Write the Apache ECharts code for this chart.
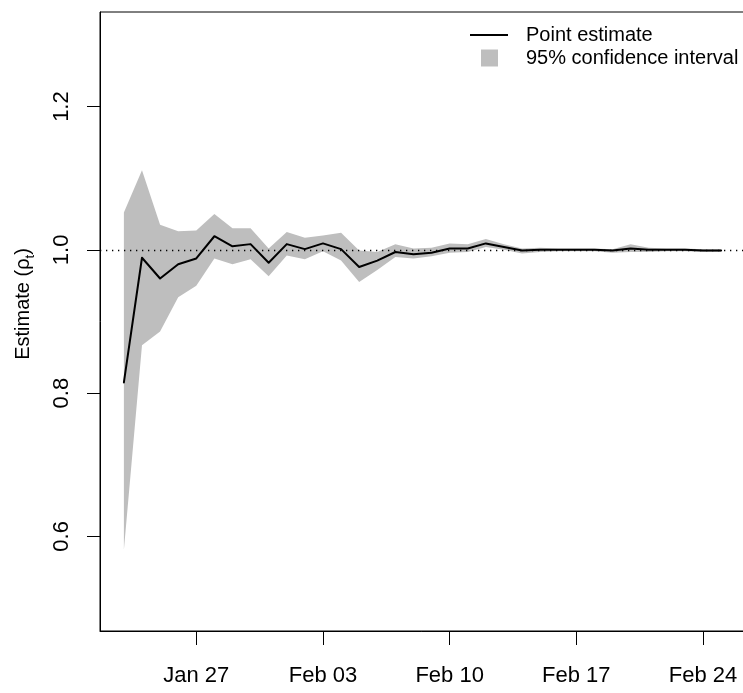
<!DOCTYPE html>
<html>
<head>
<meta charset="utf-8">
<script src="https://cdn.jsdelivr.net/npm/echarts@6/dist/echarts.min.js"></script>
<style>
html,body{margin:0;padding:0;background:#fff;}
#chart{width:743px;height:693px;}
</style>
</head>
<body>
<div id="chart"></div>
<script>
// ---- data ----
const dates = ['Jan 23','Jan 24','Jan 25','Jan 26','Jan 27','Jan 28','Jan 29','Jan 30','Jan 31',
  'Feb 01','Feb 02','Feb 03','Feb 04','Feb 05','Feb 06','Feb 07','Feb 08','Feb 09','Feb 10',
  'Feb 11','Feb 12','Feb 13','Feb 14','Feb 15','Feb 16','Feb 17','Feb 18','Feb 19','Feb 20',
  'Feb 21','Feb 22','Feb 23','Feb 24','Feb 25'];
const estimate = [0.815,0.989,0.960,0.980,0.988,1.019,1.005,1.008,0.982,
  1.008,1.001,1.009,1.001,0.976,0.985,0.997,0.994,0.996,1.002,
  1.002,1.009,1.004,0.999,1.000,1.000,1.000,1.000,0.999,1.002,
  1.000,1.000,1.000,0.999,0.999];
const lower = [0.581,0.867,0.886,0.934,0.950,0.988,0.980,0.987,0.963,
  0.992,0.987,0.998,0.985,0.955,0.972,0.990,0.988,0.991,0.996,
  0.997,1.004,1.000,0.995,0.997,0.998,0.998,0.998,0.996,0.997,
  0.997,0.998,0.998,0.997,0.997];
const upper = [1.052,1.111,1.035,1.026,1.027,1.050,1.030,1.030,1.002,
  1.025,1.017,1.020,1.024,0.999,0.997,1.008,1.002,1.003,1.009,
  1.008,1.015,1.008,1.002,1.003,1.002,1.002,1.002,1.001,1.008,
  1.003,1.002,1.002,1.001,1.001];
const xTickLabels = ['Jan 27','Feb 03','Feb 10','Feb 17','Feb 24'];
const yTicks = [0.6, 0.8, 1.0, 1.2];
const yTickLabels = ['0.6','0.8','1.0','1.2'];
const refValue = 1.0;
const seriesNames = ['Point estimate', '95% confidence interval'];

// ---- chart ----
const n = dates.length;
const xIdx = dates.map((d, i) => i);
const xTicks = xTickLabels.map(l => dates.indexOf(l));
const FONT = 'Liberation Sans, Arial, Helvetica, sans-serif';
const BAND = '#bebebe';

const chart = echarts.init(document.getElementById('chart'), null, {renderer: 'canvas'});
chart.setOption({
  animation: false,
  backgroundColor: '#ffffff',
  textStyle: {fontFamily: FONT},
  grid: {left: 100, top: 12, right: -2, bottom: 62, containLabel: false, outerBoundsMode: 'none',
         show: true, borderColor: '#000', borderWidth: 1},
  xAxis: {
    type: 'value',
    min: -0.04 * (n - 1), max: 1.04 * (n - 1),
    splitLine: {show: false},
    axisLine: {show: true, onZero: false, lineStyle: {color: '#000', width: 1}},
    axisTick: {show: true, length: 14, lineStyle: {color: '#000', width: 1}, customValues: xTicks},
    axisLabel: {show: true, margin: 34, color: '#000', fontSize: 22, fontFamily: FONT,
      customValues: xTicks,
      formatter: v => xTickLabels[xTicks.indexOf(Math.round(v))] || ''}
  },
  yAxis: {
    type: 'value',
    min: 0.468, max: 1.332,
    splitLine: {show: false},
    axisLine: {show: true, onZero: false, lineStyle: {color: '#000', width: 1}},
    axisTick: {show: true, length: 13, lineStyle: {color: '#000', width: 1}, customValues: yTicks},
    axisLabel: {show: true, rotate: 90, margin: 27, color: '#000', fontSize: 22, fontFamily: FONT,
      customValues: yTicks,
      formatter: v => {
        const k = yTicks.findIndex(t => Math.abs(t - v) < 1e-9);
        return k >= 0 ? yTickLabels[k] : '';
      }}
  },
  legend: [
    {
      data: [{name: seriesNames[0], icon: 'path://M0,0L38,0L38,2L0,2Z'}],
      left: 470, top: 25, padding: 0, itemWidth: 38, itemHeight: 2,
      textStyle: {fontSize: 20, color: '#000', fontFamily: FONT, padding: [0, 0, 0, 13]},
      selectedMode: false
    },
    {
      data: [{name: seriesNames[1], icon: 'rect', itemStyle: {color: BAND}}],
      left: 481, top: 48, padding: 0, itemWidth: 17, itemHeight: 17,
      textStyle: {fontSize: 20, color: '#000', fontFamily: FONT, padding: [0, 0, 0, 23]},
      selectedMode: false
    }
  ],
  graphic: [{
    type: 'text',
    x: 23, y: 304,
    rotation: Math.PI / 2,
    style: {
      text: '{a|Estimate (ρ}{s|t}{a|)}',
      align: 'center', verticalAlign: 'middle',
      fill: '#000',
      rich: {
        a: {fontSize: 20, fontFamily: FONT, lineHeight: 28, verticalAlign: 'middle', fill: '#000'},
        s: {fontSize: 13, fontFamily: FONT, lineHeight: 13, verticalAlign: 'bottom', fill: '#000'}
      }
    }
  }],
  series: [
    {
      name: 'reference',
      type: 'line',
      data: [],
      z: 1,
      silent: true,
      markLine: {
        silent: true, symbol: 'none', label: {show: false},
        lineStyle: {color: '#000', width: 1.3, type: [1.3, 4.7]},
        data: [{yAxis: refValue}]
      }
    },
    {
      name: seriesNames[1],
      type: 'custom',
      z: 2,
      silent: true,
      itemStyle: {color: BAND},
      data: xIdx.map(i => [i, lower[i], upper[i]]),
      encode: {x: 0, y: [1, 2]},
      renderItem: function (params, api) {
        if (params.dataIndex !== 0) return null;
        const pts = [];
        for (let i = 0; i < n; i++) pts.push(api.coord([xIdx[i], upper[i]]));
        for (let i = n - 1; i >= 0; i--) pts.push(api.coord([xIdx[i], lower[i]]));
        return {type: 'polygon', shape: {points: pts}, style: {fill: BAND, stroke: null}};
      }
    },
    {
      name: seriesNames[0],
      type: 'line',
      z: 3,
      silent: true,
      symbol: 'none',
      color: '#000',
      itemStyle: {color: '#000'},
      lineStyle: {color: '#000', width: 2, join: 'round', cap: 'round'},
      data: xIdx.map(i => [i, estimate[i]])
    }
  ]
});
</script>
</body>
</html>
